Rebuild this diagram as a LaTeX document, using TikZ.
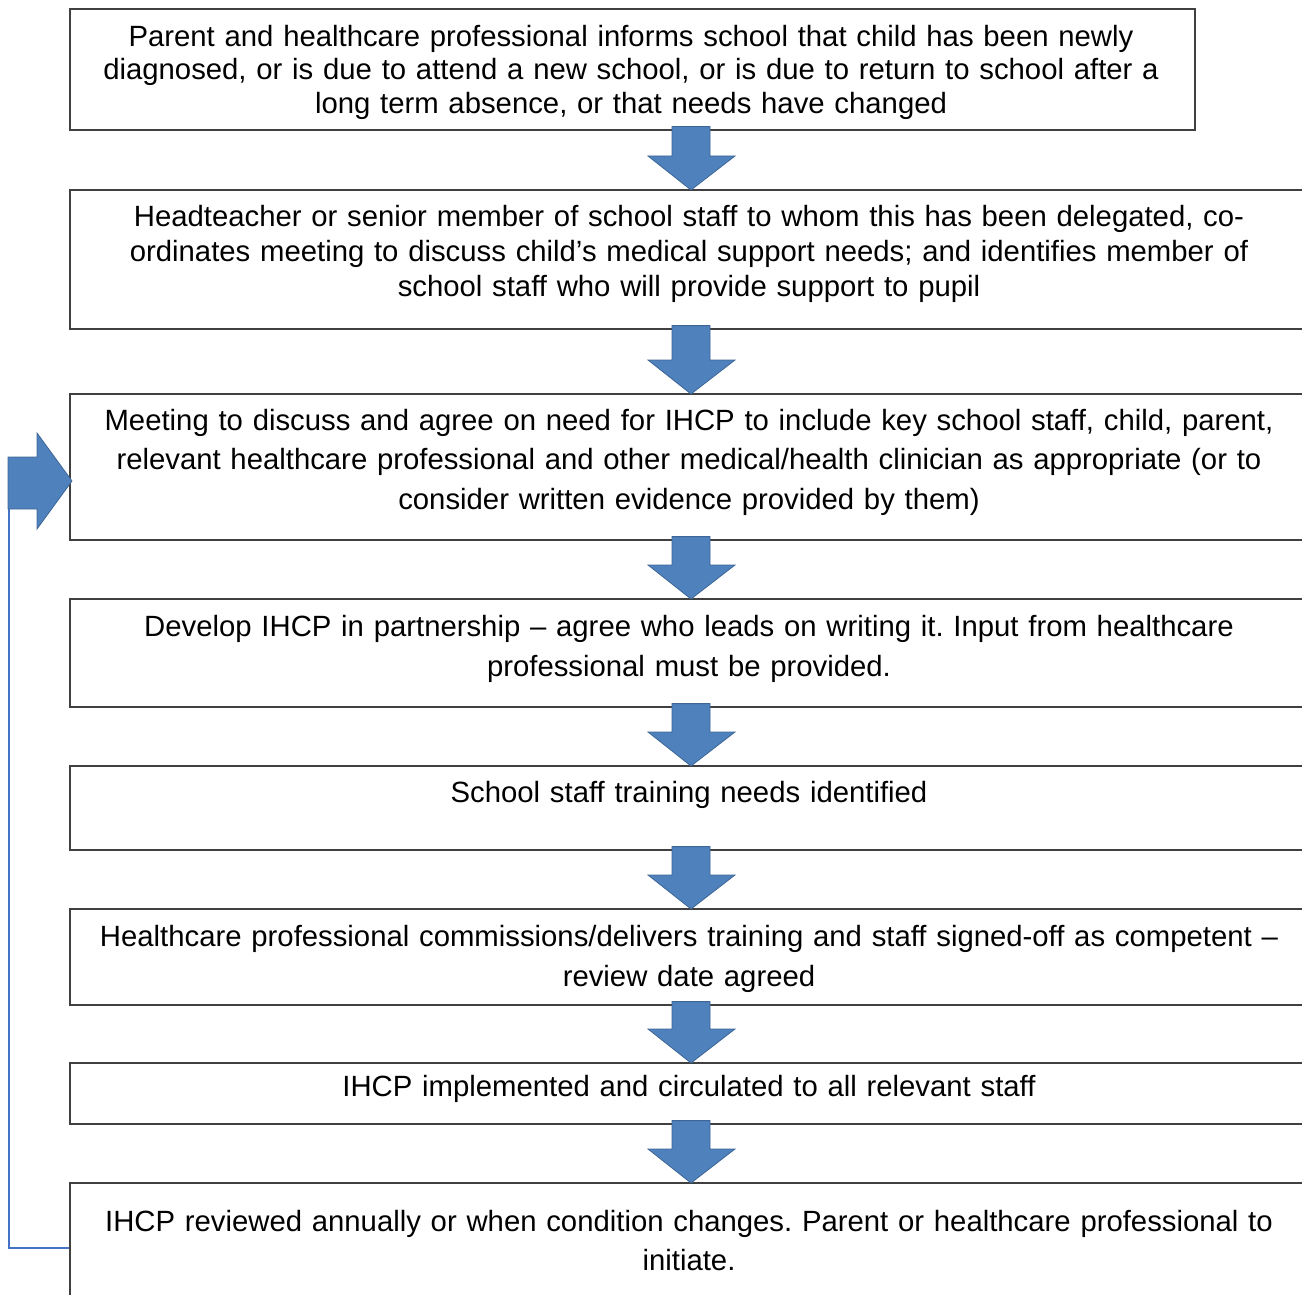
\documentclass[tikz,border=0pt]{standalone}
\usepackage{fontspec}
\setmainfont{Liberation Sans}
\usetikzlibrary{calc}
\frenchspacing

\definecolor{arrowblue}{HTML}{4F81BD}
\definecolor{arrowedge}{HTML}{3D6696}
\definecolor{boxline}{HTML}{404040}
\definecolor{loopblue}{HTML}{4472C4}

\tikzset{
  stepbox/.style={draw=boxline, line width=1.6pt, fill=white, anchor=north west, inner sep=0pt},
  steptext/.style={anchor=north, inner sep=0pt, align=center, text width=1290pt,
    font=\fontsize{29.3}{#1}\selectfont},
  steptext/.default=34,
  arrowbody/.style={fill=arrowblue, draw=arrowedge, line width=0.8pt},
  backline/.style={draw=loopblue, line width=1.5pt},
}

% block arrow from the bottom of one box to the top of the next
\newcommand{\flowarrow}[2]{%
  \draw[arrowbody] let \p1=(#1.south), \p2=(#2.north) in
    (672pt,{\y1+4pt}) -- (710pt,{\y1+4pt}) -- (710pt,{\y2+33pt})
    -- (735pt,{\y2+33pt}) -- (691pt,{\y2-1pt}) -- (648pt,{\y2+33pt})
    -- (672pt,{\y2+33pt}) -- cycle;}

\begin{document}
\begin{tikzpicture}[x=1pt, y=-1pt]
    \useasboundingbox (0,0) rectangle (1302,1295);
    \clip (0,0) rectangle (1302,1295);

    % boxes
    \node[stepbox, minimum width=1125, minimum height=121] (b1) at (69,8) {};
    \node[stepbox, minimum width=1240, minimum height=139] (b2) at (69,189) {};
    \node[stepbox, minimum width=1240, minimum height=146] (b3) at (69,393) {};
    \node[stepbox, minimum width=1240, minimum height=108] (b4) at (69,598) {};
    \node[stepbox, minimum width=1240, minimum height=84] (b5) at (69,765) {};
    \node[stepbox, minimum width=1240, minimum height=96] (b6) at (69,908) {};
    \node[stepbox, minimum width=1240, minimum height=61] (b7) at (69,1062) {};
    \node[stepbox, minimum width=1240, minimum height=140] (b8) at (69,1182) {};

    % texts
    \node[steptext=33.5] (t1) at (631,25) {Parent and healthcare professional informs school that child has been newly\\
      diagnosed, or is due to attend a new school, or is due to return to school after a\\
      long term absence, or that needs have changed};
    \node[steptext=35] (t2) at (689,205) {Headteacher or senior member of school staff to whom this has been delegated, co-\\
      ordinates meeting to discuss child’s medical support needs; and identifies member of\\
      school staff who will provide support to pupil};
    \node[steptext=39.5] (t3) at (689,409) {Meeting to discuss and agree on need for IHCP to include key school staff, child, parent,\\
      relevant healthcare professional and other medical/health clinician as appropriate (or to\\
      consider written evidence provided by them)};
    \node[steptext=40] (t4) at (689,615) {Develop IHCP in partnership – agree who leads on writing it. Input from healthcare\\
      professional must be provided.};
    \node[steptext] (t5) at (689,781) {School staff training needs identified};
    \node[steptext=40] (t6) at (689,925) {Healthcare professional commissions/delivers training and staff signed-off as competent –\\
      review date agreed};
    \node[steptext] (t7) at (689,1075) {IHCP implemented and circulated to all relevant staff};
    \node[steptext=39] (t8) at (689,1210) {IHCP reviewed annually or when condition changes. Parent or healthcare professional to\\
      initiate.};

    % arrows between the steps
    \flowarrow{b1}{b2}
    \flowarrow{b2}{b3}
    \flowarrow{b3}{b4}
    \flowarrow{b4}{b5}
    \flowarrow{b5}{b6}
    \flowarrow{b6}{b7}
    \flowarrow{b7}{b8}

    % review loop back to the meeting
    \coordinate (fb) at (9,509);
    \draw[backline] ([yshift=-66pt]b8.north west) -| (fb);
    \draw[arrowbody] (8,457) -- (37,457) -- (37,433) -- (72,481) -- (37,529) -- (37,509) -- (8,509) -- cycle;
\end{tikzpicture}
\end{document}
